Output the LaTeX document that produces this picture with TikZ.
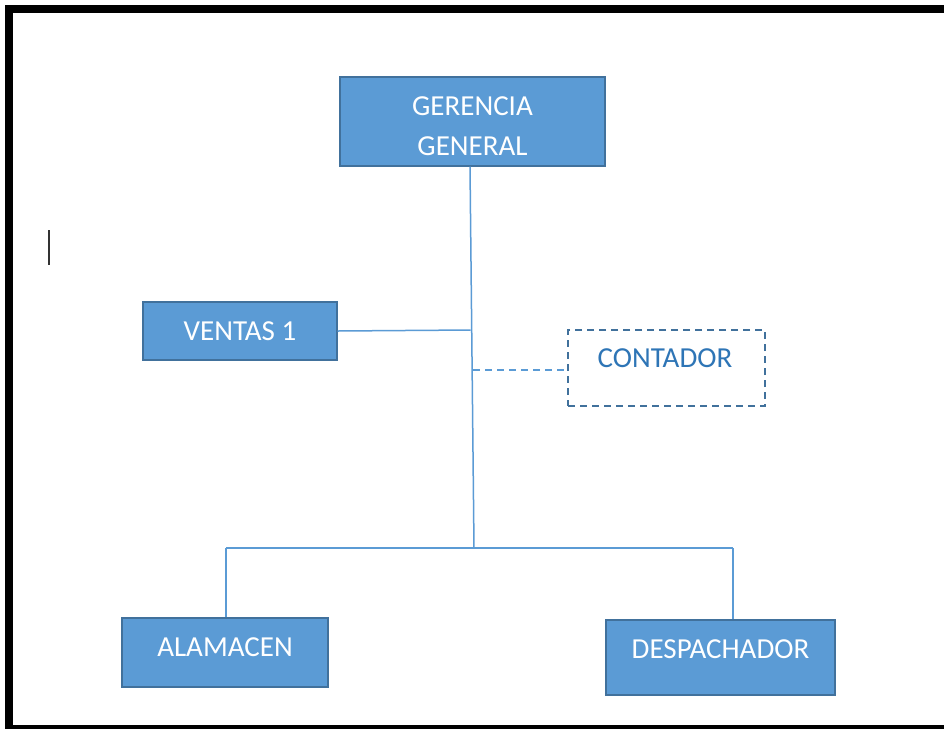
\documentclass[tikz,border=0pt]{standalone}
\usepackage{fontspec}
\setmainfont{Carlito}
\definecolor{boxfill}{HTML}{5B9BD5}
\definecolor{boxedge}{HTML}{41719C}
\definecolor{linec}{HTML}{5B9BD5}
\definecolor{dashtext}{HTML}{2E75B6}
\begin{document}
\begin{tikzpicture}[x=1pt,y=-1pt,
  orgbox/.style={draw=boxedge, fill=boxfill, line width=1.3pt, text=white,
    font=\fontsize{29}{40}\selectfont, align=center, inner sep=0pt},
  conn/.style={draw=linec, line width=1.5pt},
  dashconn/.style={draw=linec, line width=1.5pt, dash pattern=on 7pt off 5pt},
  dashbox/.style={draw=boxedge, line width=1.5pt, dash pattern=on 7pt off 5pt},
  lbl/.style={font=\fontsize{29}{40}\selectfont, inner sep=0pt}]
\useasboundingbox (0,0) rectangle (944,729);
\fill[white] (0,0) rectangle (944,729);
% frame
\fill[black] (5,5) rectangle (944,13);
\fill[black] (5,5) rectangle (13,729);
\fill[black] (5,725) rectangle (944,729);
% cursor
\draw[line width=1.6pt, black!80] (49,230) -- (49,265);
% boxes
\node[orgbox, minimum width=265, minimum height=89] (G) at (472.5,121.5) {\rule{0pt}{28pt}GERENCIA\\GENERAL};
\node[orgbox, minimum width=194, minimum height=58] (V) at (240,331) {VENTAS 1};
\node[dashbox, minimum width=197, minimum height=76, inner sep=0pt] (C) at (666.5,368) {};
\node[lbl, text=dashtext] (Ct) at (665,358) {CONTADOR};
\node[orgbox, minimum width=206, minimum height=69, text depth=11pt] (A) at (225,652.5) {ALAMACEN};
\node[orgbox, minimum width=229, minimum height=75, text depth=17pt] (D) at (720.5,657.5) {DESPACHADOR};
% connectors
\coordinate (top) at (470,166);
\coordinate (j) at (474,548);
\coordinate (vj) at (470.6,330);
\coordinate (cj) at (473.2,370);
\coordinate (bl) at (226,548);
\coordinate (br) at (733,548);
\draw[conn] (G.south -| top) -- (j);
\draw[conn] (V.east) -- (vj);
\draw[dashconn] (cj) -- (cj -| C.west);
\draw[conn] (bl) -- (br);
\draw[conn] (bl) -- (bl |- A.north);
\draw[conn] (br) -- (br |- D.north);
\end{tikzpicture}
\end{document}
